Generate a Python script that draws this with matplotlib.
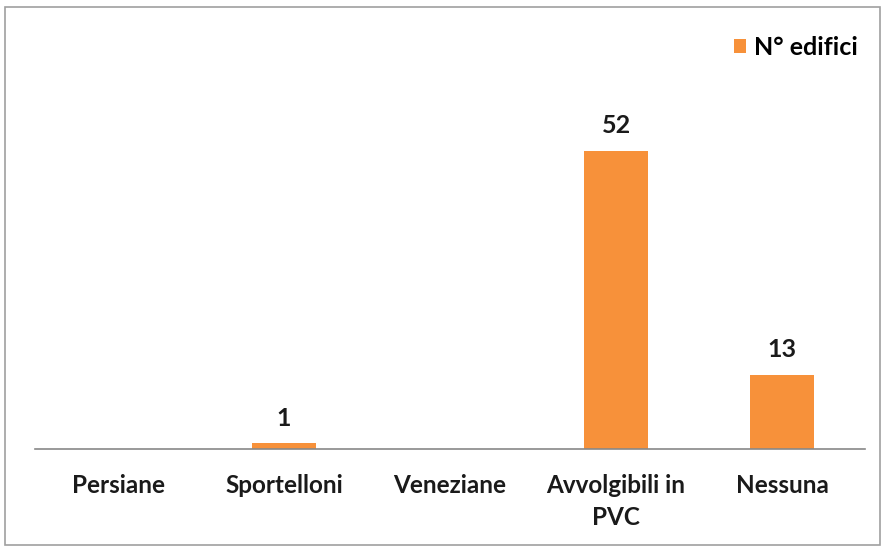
import matplotlib.pyplot as plt
from matplotlib.patches import Rectangle

categories = ["Persiane", "Sportelloni", "Veneziane", "Avvolgibili in\nPVC", "Nessuna"]
values = [0, 1, 0, 52, 13]
labels = ["", "1", "", "52", "13"]

plt.rcParams['font.family'] = ['Lato', 'DejaVu Sans']

fig = plt.figure(figsize=(8.84, 5.48), dpi=100)
fig.patches.append(Rectangle((0.006, 0.006), 0.990, 0.982, transform=fig.transFigure,
                             fill=False, edgecolor="#a0a0a0", linewidth=1.2))

ax = fig.add_axes([35 / 884, (548 - 449) / 548, 830 / 884, 401 / 548])
x = range(len(categories))
bars = ax.bar(x, values, width=0.38, color="#F7913A", label="N° edifici")

for b, lab in zip(bars, labels):
    if lab:
        ax.text(b.get_x() + b.get_width() / 2, b.get_height() + 2.4, lab,
                ha="center", va="bottom", fontsize=18, fontweight="bold", color="#1a1a1a")

ax.set_xlim(-0.5, 4.5)
ax.set_ylim(0, 70)
ax.set_xticks(list(x))
ax.set_xticklabels(categories, fontsize=17.5, fontweight="bold", color="#1a1a1a",
                   linespacing=1.45)
ax.tick_params(axis="x", length=0, pad=18)
ax.set_yticks([])
for s in ["top", "left", "right"]:
    ax.spines[s].set_visible(False)
ax.spines["bottom"].set_color("#888888")
ax.spines["bottom"].set_linewidth(1.2)

ax.legend(loc="upper right", bbox_to_anchor=(1.018, 1.087), frameon=False,
          handlelength=0.5, handleheight=0.5, handletextpad=0.3,
          prop={"weight": "bold", "size": 18})

fig.savefig("out.png", dpi=100)
